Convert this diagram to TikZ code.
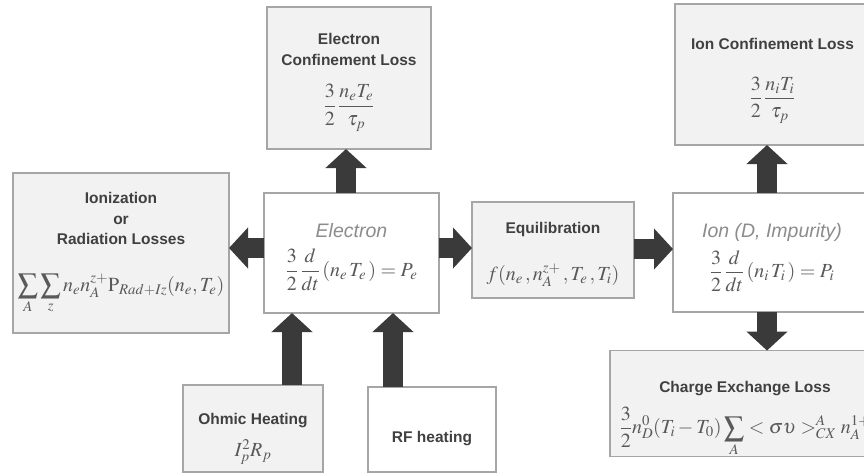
\documentclass[tikz,border=0pt]{standalone}
\usepackage{mathptmx}
\usepackage{fontspec}
\setsansfont{Liberation Sans}
\usepackage{tikz}
\usetikzlibrary{arrows.meta, positioning}

\definecolor{boxfill}{HTML}{F2F2F2}
\definecolor{boxline}{HTML}{A6A6A6}
\definecolor{titlegray}{HTML}{404040}
\definecolor{labelgray}{HTML}{8C8C8C}
\definecolor{eqgray}{HTML}{595959}
\definecolor{arrowgray}{HTML}{3A3A3A}

\newcommand{\eqfont}{\fontsize{20}{23}\selectfont\color{eqgray}}
\newcommand{\lblfont}{\fontsize{19.5}{22}\selectfont\itshape\mdseries\color{labelgray}}

\begin{document}
\begin{tikzpicture}[
  x=1pt, y=-1pt,
  box/.style={rectangle, draw=boxline, line width=1.5pt, align=center,
             inner sep=0pt, outer sep=0pt, text=titlegray,
             font=\sffamily\bfseries\fontsize{15.5}{20.5}\selectfont},
  graybox/.style={box, fill=boxfill},
  whitebox/.style={box, fill=white},
  blockarrow/.style={line width=20pt, draw=arrowgray,
             -{Triangle[length=19pt, width=40pt]}}
]
\useasboundingbox (0,0) rectangle (864,474);

% boxes
\node[graybox, minimum width=216, minimum height=160] (ioniz) at (121,253) {%
  Ionization\\or\\Radiation Losses\\[26pt]
  {\eqfont $\displaystyle \sum_{A}\sum_{z} n_e n_A^{z+}\mathrm{P}_{Rad+Iz}(n_e,T_e)$}
};
\node[whitebox, minimum width=175, minimum height=120] (elec) at (351.5,253) {%
  \rule{0pt}{22pt}{\lblfont Electron}\\[10pt]
  {\eqfont $\displaystyle \frac{3}{2}\,\frac{d}{dt}\,(n_e\,T_e\,)=P_e$}
};
\node[graybox, minimum width=164, minimum height=142] (econf) at (349,78) {%
  \rule{0pt}{20pt}Electron\\Confinement Loss\\[18pt]
  {\eqfont $\displaystyle \frac{3}{2}\,\frac{n_eT_e}{\tau_p}$}
};
\node[graybox, minimum width=162, minimum height=96] (equil) at (553,250) {%
  \rule{0pt}{20pt}Equilibration\\[26pt]
  {\eqfont $f(n_e\,,n_A^{z+}\,,T_e\,,T_i)$}
};
\node[whitebox, minimum width=198, minimum height=119] (ion) at (772,252.5) {%
  \rule{0pt}{24pt}{\lblfont Ion (D, Impurity)}\\[8pt]
  {\eqfont $\displaystyle \frac{3}{2}\,\frac{d}{dt}\,(n_i\,T_i\,)=P_i$}
};
\node[graybox, minimum width=195, minimum height=141] (iconf) at (772.5,74.5) {%
  \rule{0pt}{24pt}Ion Confinement Loss\\[26pt]
  {\eqfont $\displaystyle \frac{3}{2}\,\frac{n_iT_i}{\tau_p}$}
};
\node[graybox, minimum width=270, minimum height=101] (cx) at (745,403.5) {%
  \rule{0pt}{42pt}Charge Exchange Loss\\[10pt]
  {\eqfont $\displaystyle \frac{3}{2}n_D^0(T_i-T_0)\sum_{A}<\sigma\upsilon>_{CX}^{A}n_A^{1+}$}
};
\node[graybox, minimum width=140, minimum height=87] (ohmic) at (253,428.5) {%
  \rule{0pt}{32pt}Ohmic Heating\\[12pt]
  {\eqfont $I_p^2R_p$}
};
\node[whitebox, minimum width=128, minimum height=85] (rf) at (432,429.5) {\rule{0pt}{30pt}RF heating};

% arrows
\draw[blockarrow] ([yshift=5pt]elec.west) -- ([yshift=5pt]elec.west -| ioniz.east);
\draw[blockarrow] ([yshift=5pt]elec.east) -- ([yshift=5pt]elec.east -| equil.west);
\draw[blockarrow] ([yshift=1pt]equil.east) -- ([yshift=1pt]equil.east -| ion.west);
\draw[blockarrow] ([xshift=-5.5pt]elec.north) -- ([xshift=-5.5pt]elec.north |- econf.south);
\draw[blockarrow] ([xshift=-5pt]ion.north) -- ([xshift=-5pt]ion.north |- iconf.south);
\draw[blockarrow] ([xshift=-5pt]ion.south) -- ([xshift=-5pt]ion.south |- cx.north);
\draw[blockarrow] ([xshift=39pt]ohmic.north) -- ([xshift=39pt]ohmic.north |- elec.south);
\draw[blockarrow] ([xshift=-39pt]rf.north) -- ([xshift=-39pt]rf.north |- elec.south);

\end{tikzpicture}
\end{document}
